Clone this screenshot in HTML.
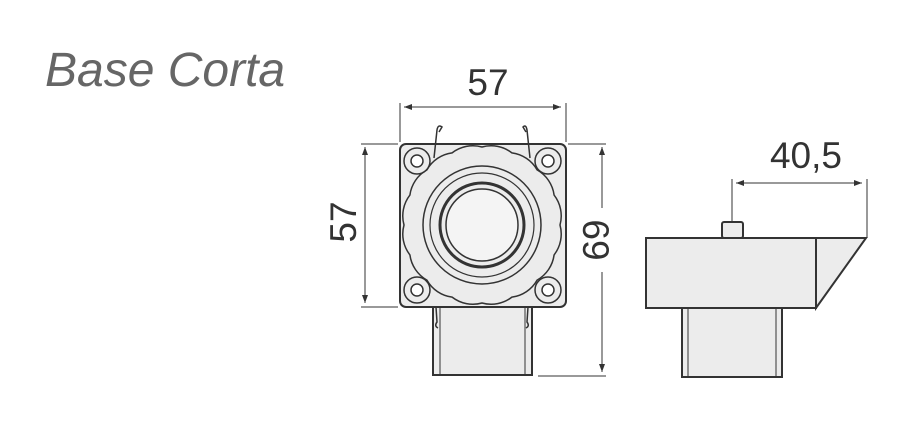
<!DOCTYPE html>
<html><head><style>
html,body{margin:0;padding:0;background:#fff;}
svg{display:block;}
text{font-family:"Liberation Sans",sans-serif;}
</style></head><body>
<svg width="906" height="448" viewBox="0 0 906 448" xmlns="http://www.w3.org/2000/svg">
<defs>
<marker id="a" markerWidth="8" markerHeight="6" refX="8" refY="3" orient="auto" markerUnits="userSpaceOnUse"><path d="M0,0 L8,3 L0,6 z" fill="#333"/></marker>
</defs>
<text x="45" y="86" font-size="48" font-style="italic" fill="#666">Base Corta</text>

<!-- front view -->
<g stroke="#333" fill="#ececec">
<rect x="433" y="300" width="99" height="75" stroke-width="2"/>
<line x1="440" y1="307" x2="440" y2="375" stroke-width="1"/>
<line x1="525" y1="307" x2="525" y2="375" stroke-width="1"/>
<rect x="400" y="144" width="166" height="163" rx="6" stroke-width="2"/>
<path stroke-width="1.5" d="M560,225 A34,34 0 0 1 554.1,254.9 A34,34 0 0 1 537.1,280.1 A34,34 0 0 1 511.9,297.1 A34,34 0 0 1 482,303 A34,34 0 0 1 452.1,297.1 A34,34 0 0 1 426.9,280.1 A34,34 0 0 1 409.9,254.9 A34,34 0 0 1 404,225 A34,34 0 0 1 409.9,195.1 A34,34 0 0 1 426.9,169.9 A34,34 0 0 1 452.1,152.9 A34,34 0 0 1 482,147 A34,34 0 0 1 511.9,152.9 A34,34 0 0 1 537.1,169.9 A34,34 0 0 1 554.1,195.1 A34,34 0 0 1 560,225 z"/>
<circle cx="482" cy="225" r="59" stroke-width="1.5"/>
<circle cx="482" cy="225" r="52" stroke-width="1.2"/>
<circle cx="482" cy="225" r="42" stroke-width="3"/>
<circle cx="482" cy="225" r="36" fill="#f4f4f4" stroke-width="1.5"/>
<g stroke-width="1.5">
<circle cx="417" cy="161" r="13"/><circle cx="417" cy="161" r="6" fill="#fff"/>
<circle cx="548" cy="161" r="13"/><circle cx="548" cy="161" r="6" fill="#fff"/>
<circle cx="417" cy="290" r="13"/><circle cx="417" cy="290" r="6" fill="#fff"/>
<circle cx="548" cy="290" r="13"/><circle cx="548" cy="290" r="6" fill="#fff"/>
</g>
</g>
<g stroke="#333" fill="none" stroke-width="1.5">
<path d="M434,158 L437,130 Q438,124 442,127 L439,132"/>
<path d="M530,158 L527,130 Q526,124 523,127 L526,132"/>
<path d="M436,307 L437,322 Q434,326 438,328"/>
<path d="M528,307 L527,322 Q530,326 526,328"/>
</g>
<!-- dims front -->
<g stroke="#333" stroke-width="1" fill="none">
<line x1="400" y1="103" x2="400" y2="142"/>
<line x1="566" y1="103" x2="566" y2="142"/>
<line x1="405" y1="107" x2="561" y2="107" marker-end="url(#a)"/>
<line x1="561" y1="107" x2="404" y2="107" marker-end="url(#a)"/>
<line x1="361" y1="144" x2="398" y2="144"/>
<line x1="361" y1="307" x2="398" y2="307"/>
<line x1="365" y1="150" x2="365" y2="303" marker-end="url(#a)"/>
<line x1="365" y1="300" x2="365" y2="147" marker-end="url(#a)"/>
<line x1="568" y1="144" x2="606" y2="144"/>
<line x1="538" y1="376" x2="606" y2="376"/>
<line x1="602" y1="150" x2="602" y2="210"/>
<line x1="602" y1="270" x2="602" y2="372" marker-end="url(#a)"/>
<line x1="602" y1="200" x2="602" y2="147" marker-end="url(#a)"/>
</g>
<rect x="588" y="208" width="28" height="64" fill="#fff"/>
<text x="488" y="95" font-size="37" fill="#333" text-anchor="middle">57</text>
<text transform="translate(356,222) rotate(-90)" font-size="37" fill="#333" text-anchor="middle">57</text>
<text transform="translate(583,240) rotate(90)" font-size="37" fill="#333" text-anchor="middle">69</text>

<!-- side view -->
<g stroke="#333" fill="#ececec" stroke-width="2">
<rect x="682" y="308" width="100" height="69"/>
<line x1="688" y1="308" x2="688" y2="377" stroke-width="1"/>
<line x1="776" y1="308" x2="776" y2="377" stroke-width="1"/>
<rect x="722" y="222" width="21" height="16" rx="2"/>
<rect x="646" y="238" width="170" height="70"/>
<path d="M816,238 L866,238 L816,308 z"/>
</g>
<g stroke="#333" stroke-width="1" fill="none">
<line x1="732" y1="179" x2="732" y2="222"/>
<line x1="867" y1="179" x2="867" y2="238"/>
<line x1="737" y1="183" x2="862" y2="183" marker-end="url(#a)"/>
<line x1="862" y1="183" x2="736" y2="183" marker-end="url(#a)"/>
</g>
<text x="806" y="168" font-size="37" fill="#333" text-anchor="middle">40,5</text>
</svg>
</body></html>
